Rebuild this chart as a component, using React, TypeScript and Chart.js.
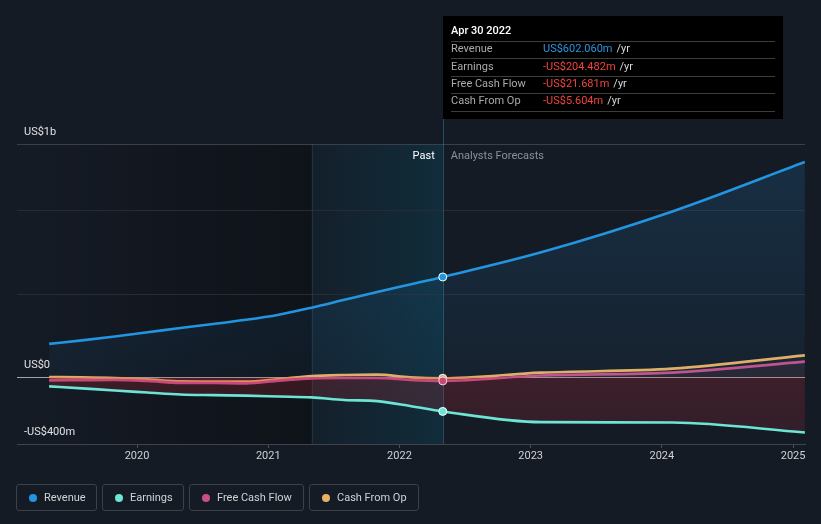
import React, { useEffect, useRef } from "react";
import { Chart, registerables } from "chart.js";

Chart.register(...registerables);

// ---------- data ----------
const pastDates = [2019.33, 2019.58, 2019.83, 2020.08, 2020.33, 2020.58, 2020.83, 2021.08, 2021.33, 2021.58, 2021.83, 2022.08, 2022.33];
const forecastDates = [2023.08, 2024.08, 2025.09];

const revenuePast = [201, 222, 245, 270, 296, 320, 345, 376, 418, 465, 512, 557, 602.06];
const revenueForecast = [750, 995, 1292];

const earningsPast = [-54, -66, -79, -91, -103, -107, -110, -115, -120, -136, -143, -172, -204.482];
const earningsForecast = [-269, -271, -331];

const fcfPast = [-18, -17, -16, -22, -33, -34, -36, -20, -6, -4, -4, -16, -21.681];
const fcfForecast = [11, 28, 94];

const cfoPast = [2, 0, -4, -12, -24, -25, -26, -10, 8, 14, 16, 0, -5.604];
const cfoForecast = [28, 52, 132];

const seriesNames = ["Revenue", "Earnings", "Free Cash Flow", "Cash From Op"];
const seriesColors = ["#2394df", "#6ce5d4", "#c8508a", "#e9b062"];

const xTickYears = [2020, 2021, 2022, 2023, 2024, 2025];
const yTickValues = [-400, 0, 500, 1000, 1400];
const yTickLabels = ["-US$400m", "US$0", "", "", "US$1b"];

const tooltipTitle = "Apr 30 2022";
const highlightStart = 2021.33;
const X_MIN = 2019.085;
const X_MAX = 2025.091;
const Y_MIN = -400;
const Y_MAX = 1400;

const BG = "#151b25";
const FONT = "Roboto, 'Noto Sans', sans-serif";

// ---------- helpers ----------
const allDates = pastDates.concat(forecastDates);
const hoverIndex = pastDates.length - 1;
const hoverDate = pastDates[hoverIndex];
const seriesData = [
  revenuePast.concat(revenueForecast),
  earningsPast.concat(earningsForecast),
  fcfPast.concat(fcfForecast),
  cfoPast.concat(cfoForecast),
];

function fmtValue(v: number): string {
  const s = "US$" + Math.abs(v).toFixed(3) + "m";
  return v < 0 ? "-" + s : s;
}

function revenueFill(c: any) {
  const chart = c.chart;
  const a = chart.chartArea;
  if (!a) return "rgba(35,148,223,0.1)";
  const y = chart.scales.y;
  const g = chart.ctx.createLinearGradient(0, y.getPixelForValue(1300), 0, y.getPixelForValue(0));
  g.addColorStop(0, "rgba(35,148,223,0.16)");
  g.addColorStop(1, "rgba(35,148,223,0.05)");
  return g;
}

function earningsFill(c: any) {
  const chart = c.chart;
  const a = chart.chartArea;
  if (!a) return "rgba(200,45,60,0.2)";
  const y = chart.scales.y;
  const g = chart.ctx.createLinearGradient(0, y.getPixelForValue(0), 0, y.getPixelForValue(-350));
  g.addColorStop(0, "rgba(200,45,60,0.22)");
  g.addColorStop(1, "rgba(200,45,60,0.16)");
  return g;
}

const seriesFills: any[] = [revenueFill, earningsFill, "rgba(200,80,138,0.08)", "rgba(233,176,98,0.03)"];

const backdropPlugin = {
  id: "backdrop",
  beforeDraw(chart: any) {
    const { ctx, chartArea: a, scales } = chart;
    const x = scales.x;
    ctx.save();
    ctx.fillStyle = BG;
    ctx.fillRect(0, 0, chart.width, chart.height);
    const xs = x.getPixelForValue(highlightStart);
    const xh = x.getPixelForValue(hoverDate);
    let g = ctx.createLinearGradient(a.left, 0, xs, 0);
    g.addColorStop(0, "rgba(0,0,0,0)");
    g.addColorStop(1, "rgba(0,0,0,0.32)");
    ctx.fillStyle = g;
    ctx.fillRect(a.left, a.top, xs - a.left, a.bottom - a.top);
    g = ctx.createLinearGradient(xs, 0, xh, 0);
    g.addColorStop(0, "rgba(0,95,125,0.07)");
    g.addColorStop(1, "rgba(0,115,145,0.2)");
    ctx.fillStyle = g;
    ctx.fillRect(xs, a.top, xh - xs, a.bottom - a.top);
    ctx.restore();
  },
  beforeDatasetsDraw(chart: any) {
    const { ctx, chartArea: a, scales } = chart;
    const xh = Math.round(scales.x.getPixelForValue(hoverDate)) + 0.5;
    const xs = Math.round(scales.x.getPixelForValue(highlightStart)) + 0.5;
    ctx.save();
    ctx.lineWidth = 1;
    ctx.strokeStyle = "rgba(60,120,140,0.22)";
    ctx.beginPath();
    ctx.moveTo(xs, a.top);
    ctx.lineTo(xs, a.bottom);
    ctx.stroke();
    ctx.strokeStyle = "rgba(60,140,165,0.45)";
    ctx.beginPath();
    ctx.moveTo(xh, 16);
    ctx.lineTo(xh, a.bottom);
    ctx.stroke();
    ctx.restore();
  },
  afterDraw(chart: any) {
    const { ctx, chartArea: a, scales } = chart;
    const xh = scales.x.getPixelForValue(hoverDate);
    ctx.save();
    ctx.textBaseline = "middle";
    ctx.font = "11px " + FONT;
    ctx.textAlign = "right";
    ctx.fillStyle = "#ffffff";
    ctx.fillText("Past", xh - 8, a.top + 12);
    ctx.textAlign = "left";
    ctx.fillStyle = "#8b9097";
    ctx.fillText("Analysts Forecasts", xh + 8, a.top + 12);

    // tooltip box
    const bx = Math.round(xh);
    const by = 16;
    const bw = 340;
    const bh = 103;
    ctx.fillStyle = "#000000";
    ctx.fillRect(bx, by, bw, bh);
    ctx.font = "500 11px " + FONT;
    ctx.fillStyle = "#ffffff";
    ctx.fillText(tooltipTitle, bx + 8, 31.5);
    ctx.strokeStyle = "#3d3d3d";
    ctx.lineWidth = 1;
    for (let i = 0; i < 5; i++) {
      const yy = Math.round(41 + i * 17.4) + 0.5;
      ctx.beginPath();
      ctx.moveTo(bx + 8, yy);
      ctx.lineTo(bx + bw - 8, yy);
      ctx.stroke();
    }
    for (let i = 0; i < seriesNames.length; i++) {
      const yy = 49.5 + i * 17.3;
      const v = seriesData[i][hoverIndex];
      ctx.font = "11px " + FONT;
      ctx.fillStyle = "#a9abae";
      ctx.fillText(seriesNames[i], bx + 8, yy);
      const txt = fmtValue(v);
      ctx.fillStyle = v < 0 ? "#f0453f" : "#2b95e0";
      ctx.fillText(txt, bx + 100, yy);
      const w = ctx.measureText(txt).width;
      ctx.fillStyle = "#d8d8d8";
      ctx.fillText("/yr", bx + 100 + w + 4, yy);
    }
    ctx.restore();
  },
};

export default function App() {
  const ref = useRef<HTMLCanvasElement | null>(null);

  useEffect(() => {
    document.body.style.margin = "0";
    document.body.style.background = BG;
    const canvas = ref.current;
    if (!canvas) return;
    const chart = new Chart(canvas, {
      type: "line",
      data: {
        datasets: seriesNames.map((name, i) => ({
          label: name,
          data: allDates.map((d, j) => ({ x: d, y: seriesData[i][j] })),
          borderColor: seriesColors[i],
          backgroundColor: seriesFills[i],
          fill: "origin",
          borderWidth: 2.6,
          cubicInterpolationMode: "monotone",
          pointRadius: (c: any) => (c.dataIndex === hoverIndex ? 4 : 0),
          pointBackgroundColor: seriesColors[i],
          pointBorderColor: "#ffffff",
          pointBorderWidth: 1,
        })),
      },
      options: {
        animation: false,
        responsive: false,
        devicePixelRatio: 1,
        events: [],
        layout: { padding: { left: 17, right: 16, top: 144, bottom: 55 } },
        plugins: { legend: { display: false }, tooltip: { enabled: false }, title: { display: false } },
        scales: {
          x: {
            type: "linear",
            min: X_MIN,
            max: X_MAX,
            afterBuildTicks: (s: any) => {
              s.ticks = xTickYears.map((v) => ({ value: v }));
            },
            afterFit: (s: any) => {
              s.height = 25;
            },
            grid: { display: true, drawOnChartArea: false, drawTicks: true, tickLength: 4, color: "#4a4f57" },
            border: { display: true, color: "#3f444c" },
            ticks: {
              color: "#d0d2d5",
              font: { family: FONT, size: 11 },
              padding: 2,
              maxRotation: 0,
              autoSkip: false,
              callback: (v: any) => String(v),
            },
          },
          y: {
            type: "linear",
            min: Y_MIN,
            max: Y_MAX,
            afterBuildTicks: (s: any) => {
              s.ticks = yTickValues.map((v) => ({ value: v }));
            },
            afterFit: (s: any) => {
              s.width = 0;
            },
            grid: {
              display: true,
              drawOnChartArea: true,
              drawTicks: false,
              color: (c: any) => {
                const v = c.tick ? c.tick.value : null;
                if (v === 0) return "#a3a4a8";
                if (v === Y_MAX || v === Y_MIN) return "#3a3f48";
                return "#262b34";
              },
            },
            border: { display: false },
            ticks: {
              mirror: true,
              padding: 7,
              labelOffset: -12,
              color: "#e0e1e3",
              font: { family: FONT, size: 11 },
              autoSkip: false,
              callback: (v: any) => {
                const k = yTickValues.indexOf(Number(v));
                return k >= 0 ? yTickLabels[k] : "";
              },
            },
          },
        },
      },
      plugins: [backdropPlugin],
    } as any);
    return () => chart.destroy();
  }, []);

  const legendWidths = [81, 82, 115, 110];

  return (
    <div style={{ position: "relative", width: 821, height: 524, background: BG, overflow: "hidden" }}>
      <canvas ref={ref} width={821} height={524} style={{ display: "block", width: 821, height: 524 }} />
      <div style={{ position: "absolute", left: 16, top: 484, display: "flex", gap: 5 }}>
        {seriesNames.map((name, i) => (
          <div
            key={name}
            style={{
              position: "relative",
              boxSizing: "border-box",
              width: legendWidths[i],
              height: 27,
              border: "1px solid #3b4049",
              borderRadius: 3,
              fontFamily: FONT,
              fontSize: 11,
              color: "#d0d2d5",
              lineHeight: "25px",
              paddingLeft: 27,
              whiteSpace: "nowrap",
            }}
          >
            <span
              style={{
                position: "absolute",
                left: 12,
                top: 9,
                width: 8,
                height: 8,
                borderRadius: "50%",
                background: seriesColors[i],
              }}
            />
            {name}
          </div>
        ))}
      </div>
    </div>
  );
}
